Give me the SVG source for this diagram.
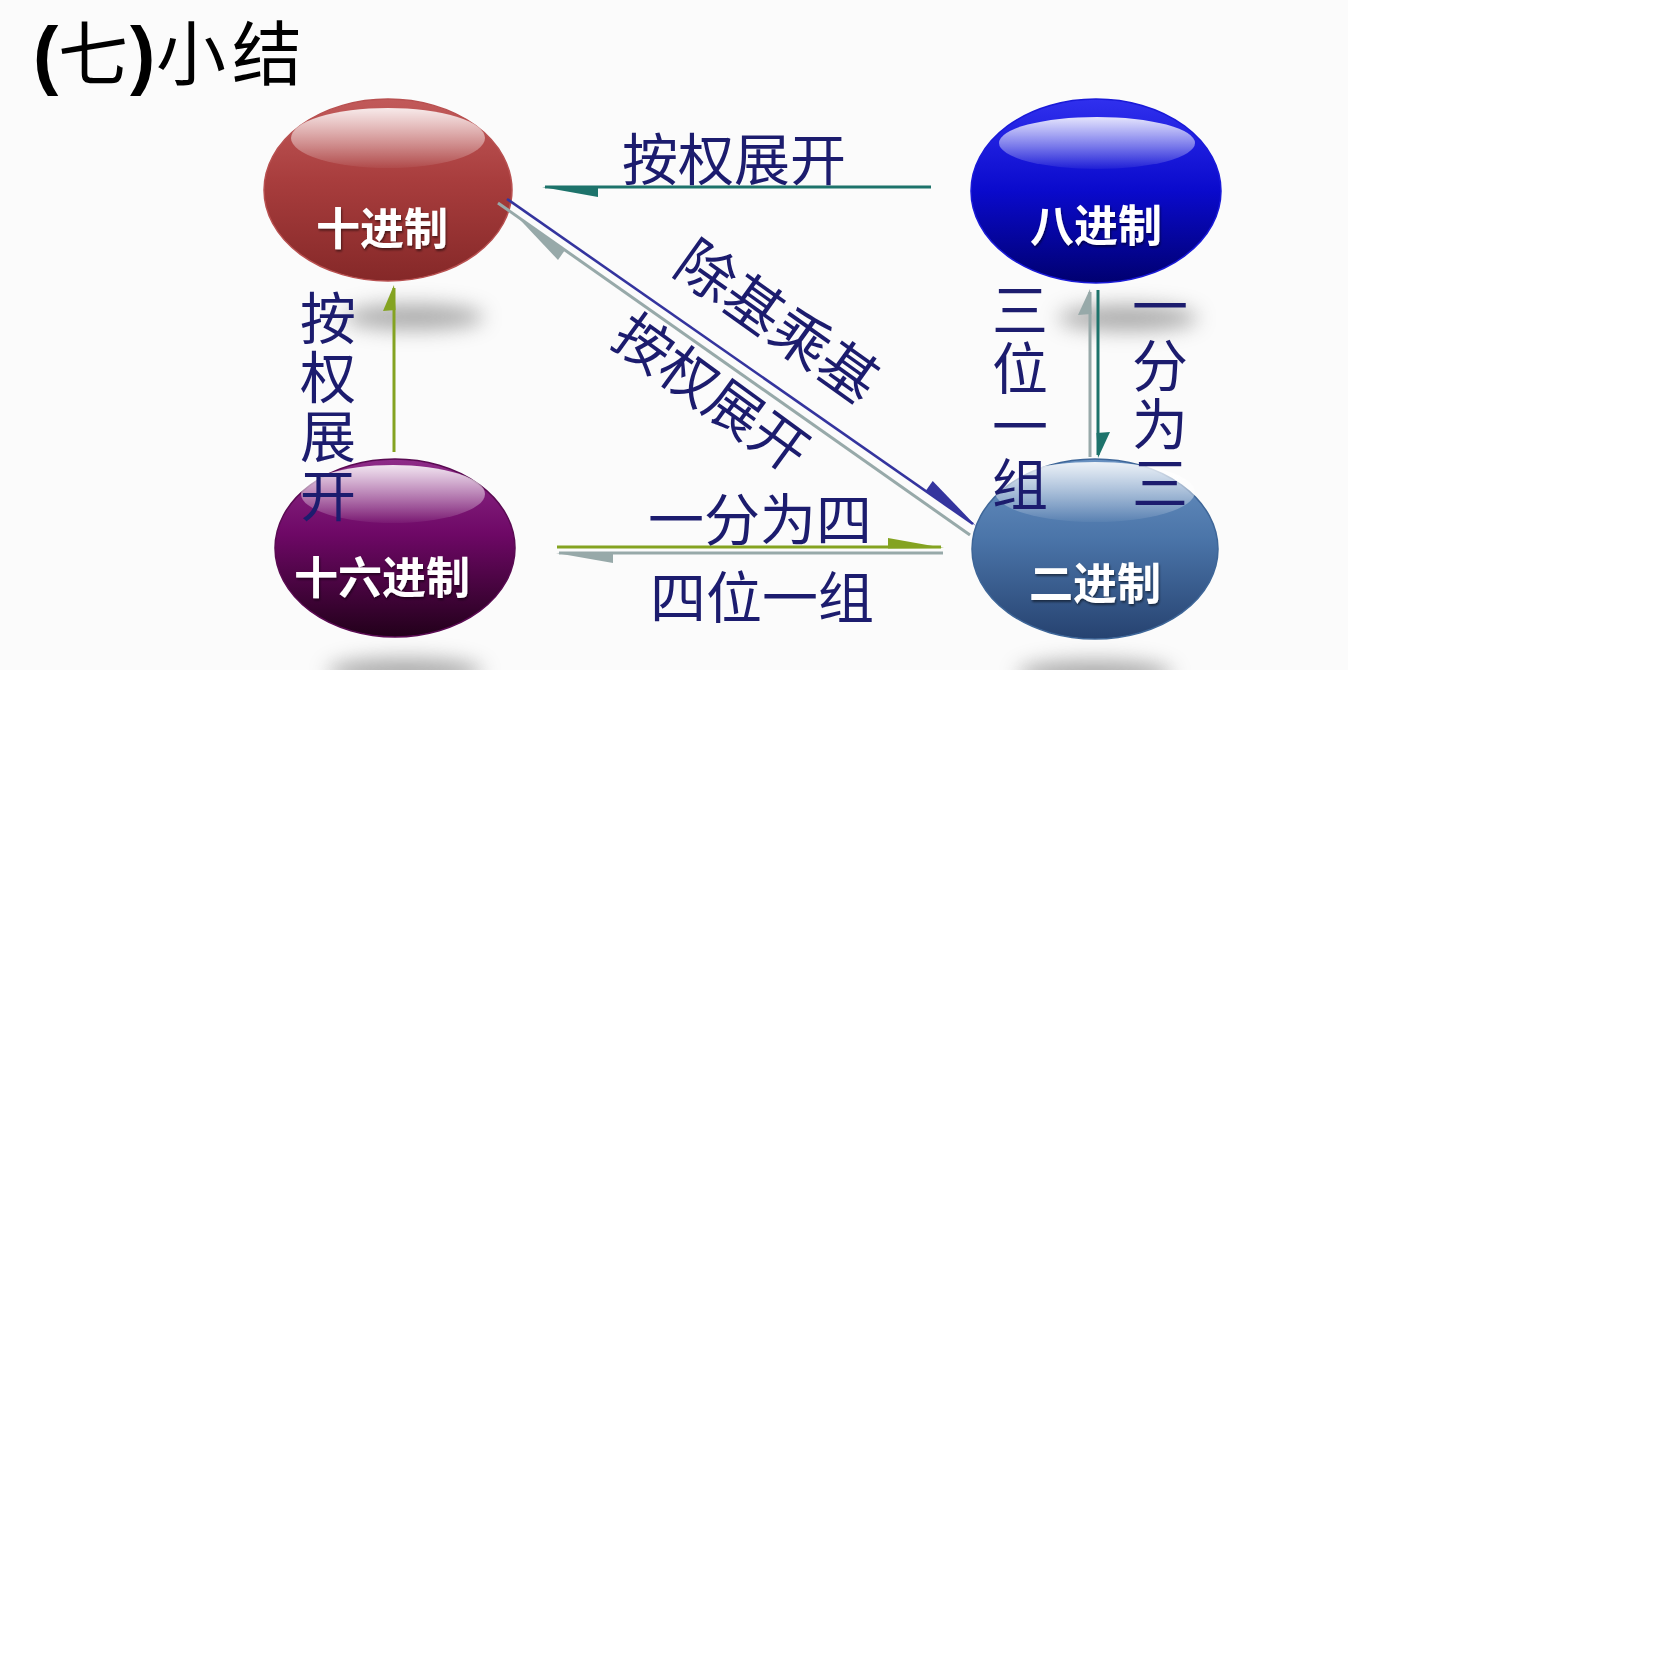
<svg xmlns="http://www.w3.org/2000/svg" width="1680" height="1680" viewBox="0 0 1680 1680">
<defs>
<style>
.lbl{font-family:'Noto Sans CJK SC','Noto Sans',sans-serif;font-size:56px;fill:#1c1c6e;text-anchor:middle;}
.vlbl{font-family:'Noto Sans CJK SC','Noto Sans',sans-serif;font-size:56px;fill:#1c1c6e;writing-mode:vertical-rl;text-orientation:upright;}
.ntext{font-family:'Noto Sans CJK SC','Noto Sans',sans-serif;font-size:44px;font-weight:700;fill:#ffffff;text-anchor:middle;filter:url(#tshadow);}
.title-cjk{font-family:'Noto Sans CJK SC','Noto Sans',sans-serif;font-size:70px;fill:#000000;}
.title-par{font-family:'Liberation Sans',Arial,sans-serif;font-weight:700;font-size:76px;fill:#000000;}
.ln{fill:none;stroke-width:3;}
.teal{stroke:#1d736b;}
.tealf{fill:#1d736b;}
.gray{stroke:#97a9a9;}
.grayf{fill:#97a9a9;}
.blue{stroke:#34349e;stroke-width:2.6;}
.bluef{fill:#34349e;}
.green{stroke:#84a321;}
.greenf{fill:#84a321;}
.hl{opacity:0.95;}
.shadow{fill:#8a8a8a;opacity:0.7;filter:url(#blur);}
</style>
<linearGradient id="gDec" x1="0" y1="0" x2="0" y2="1">
<stop offset="0" stop-color="#c25a5a"/><stop offset="0.45" stop-color="#a83d3d"/><stop offset="1" stop-color="#852828"/>
</linearGradient>
<linearGradient id="gOct" x1="0" y1="0" x2="0" y2="1">
<stop offset="0" stop-color="#3030ee"/><stop offset="0.5" stop-color="#0a0acc"/><stop offset="1" stop-color="#000070"/>
</linearGradient>
<linearGradient id="gHex" x1="0" y1="0" x2="0" y2="1">
<stop offset="0" stop-color="#8e2c88"/><stop offset="0.42" stop-color="#6e0866"/><stop offset="1" stop-color="#22001a"/>
</linearGradient>
<linearGradient id="gBin" x1="0" y1="0" x2="0" y2="1">
<stop offset="0" stop-color="#6a92c2"/><stop offset="0.45" stop-color="#4a74a8"/><stop offset="1" stop-color="#264270"/>
</linearGradient>
<linearGradient id="gHl" x1="0" y1="0" x2="0" y2="1">
<stop offset="0" stop-color="#ffffff" stop-opacity="0.92"/><stop offset="1" stop-color="#ffffff" stop-opacity="0.05"/>
</linearGradient>
<filter id="blur" x="-50%" y="-100%" width="200%" height="300%"><feGaussianBlur stdDeviation="10"/></filter>
<filter id="tshadow" x="-10%" y="-20%" width="120%" height="150%"><feDropShadow dx="1" dy="2" stdDeviation="1.2" flood-color="#000000" flood-opacity="0.5"/></filter>
<clipPath id="slideClip"><rect x="0" y="0" width="1348" height="670"/></clipPath>
</defs>

<rect x="0" y="0" width="1680" height="1680" fill="#ffffff"/>
<rect x="0" y="0" width="1348" height="670" fill="#fbfbfb"/>

<g id="title">
<text y="80"><tspan class="title-par" x="33">(</tspan><tspan class="title-cjk" x="58">七</tspan><tspan class="title-par" x="130">)</tspan><tspan class="title-cjk" x="156">小</tspan><tspan class="title-cjk" x="232">结</tspan></text>
</g>

<g id="shadows" clip-path="url(#slideClip)">
<ellipse class="shadow" cx="414" cy="317" rx="70" ry="13"/>
<ellipse class="shadow" cx="1128" cy="318" rx="70" ry="13"/>
<ellipse class="shadow" cx="405" cy="672" rx="78" ry="14"/>
<ellipse class="shadow" cx="1095" cy="674" rx="78" ry="14"/>
</g>

<g id="node-decimal">
<ellipse cx="388" cy="190" rx="124" ry="91" fill="url(#gDec)" stroke="#b85050" stroke-width="1.5"/>
<ellipse class="hl" cx="388" cy="138" rx="97" ry="30" fill="url(#gHl)"/>
<text class="ntext" x="382" y="245">十进制</text>
</g>

<g id="node-octal">
<ellipse cx="1096" cy="191" rx="125" ry="92" fill="url(#gOct)" stroke="#1a1ad8" stroke-width="1.5"/>
<ellipse class="hl" cx="1097" cy="143" rx="98" ry="26" fill="url(#gHl)"/>
<text class="ntext" x="1096" y="242">八进制</text>
</g>

<g id="node-hex">
<ellipse cx="395" cy="548" rx="120" ry="89" fill="url(#gHex)" stroke="#5a0a52" stroke-width="1.5"/>
<ellipse class="hl" cx="393" cy="494" rx="92" ry="29" fill="url(#gHl)"/>
<text class="ntext" x="382" y="594">十六进制</text>
</g>

<g id="node-binary">
<ellipse cx="1095" cy="549" rx="123" ry="90" fill="url(#gBin)" stroke="#3e6698" stroke-width="1.5"/>
<ellipse class="hl" cx="1095" cy="492" rx="100" ry="30" fill="url(#gHl)"/>
<text class="ntext" x="1095" y="600">二进制</text>
</g>

<g id="connectors">
<!-- octal -> decimal -->
<line class="ln teal" x1="931" y1="187" x2="545" y2="187"/>
<polygon class="tealf" points="542,187 598,186 598,197"/>
<!-- decimal -> binary -->
<line class="ln blue" x1="507" y1="199" x2="973" y2="524"/>
<polygon class="bluef" points="976,526 925.8,490.7 932.7,480.9"/>
<!-- binary -> decimal -->
<line class="ln gray" x1="970" y1="535" x2="498" y2="203"/>
<polygon class="grayf" points="516,215.5 565,250 558,260"/>
<!-- hex -> decimal -->
<line class="ln green" x1="394" y1="452" x2="394" y2="288"/>
<polygon class="greenf" points="394,285 395.5,310 383,311"/>
<!-- binary -> octal -->
<line class="ln gray" x1="1090" y1="457" x2="1090" y2="292"/>
<polygon class="grayf" points="1090,289 1091.5,314 1078,315"/>
<!-- octal -> binary -->
<line class="ln teal" x1="1098" y1="290" x2="1098" y2="455"/>
<polygon class="tealf" points="1098,458 1096.5,433 1110,432"/>
<!-- hex -> binary -->
<line class="ln green" x1="557" y1="547" x2="941" y2="547"/>
<polygon class="greenf" points="944,548 888,548.5 888,538"/>
<!-- binary -> hex -->
<line class="ln gray" x1="943" y1="553" x2="559" y2="553"/>
<polygon class="grayf" points="556,553 613,552 613,563"/>

<g id="edge-labels">
<text class="lbl" x="734" y="180">按权展开</text>
<text class="lbl" x="760" y="540">一分为四</text>
<text class="lbl" x="762" y="618">四位一组</text>
<text class="lbl" transform="translate(778,321) rotate(35.5)" x="0" y="22" style="font-size:58px">除基乘基</text>
<text class="lbl" transform="translate(712,392) rotate(36)" x="0" y="21">按权展开</text>
<text class="vlbl" x="328" y="290" letter-spacing="3">按权展开</text>
<text class="vlbl" x="1020" y="282" letter-spacing="2">三位一组</text>
<text class="vlbl" x="1160" y="278" letter-spacing="3">一分为三</text>
</g>
</g>
</svg>
